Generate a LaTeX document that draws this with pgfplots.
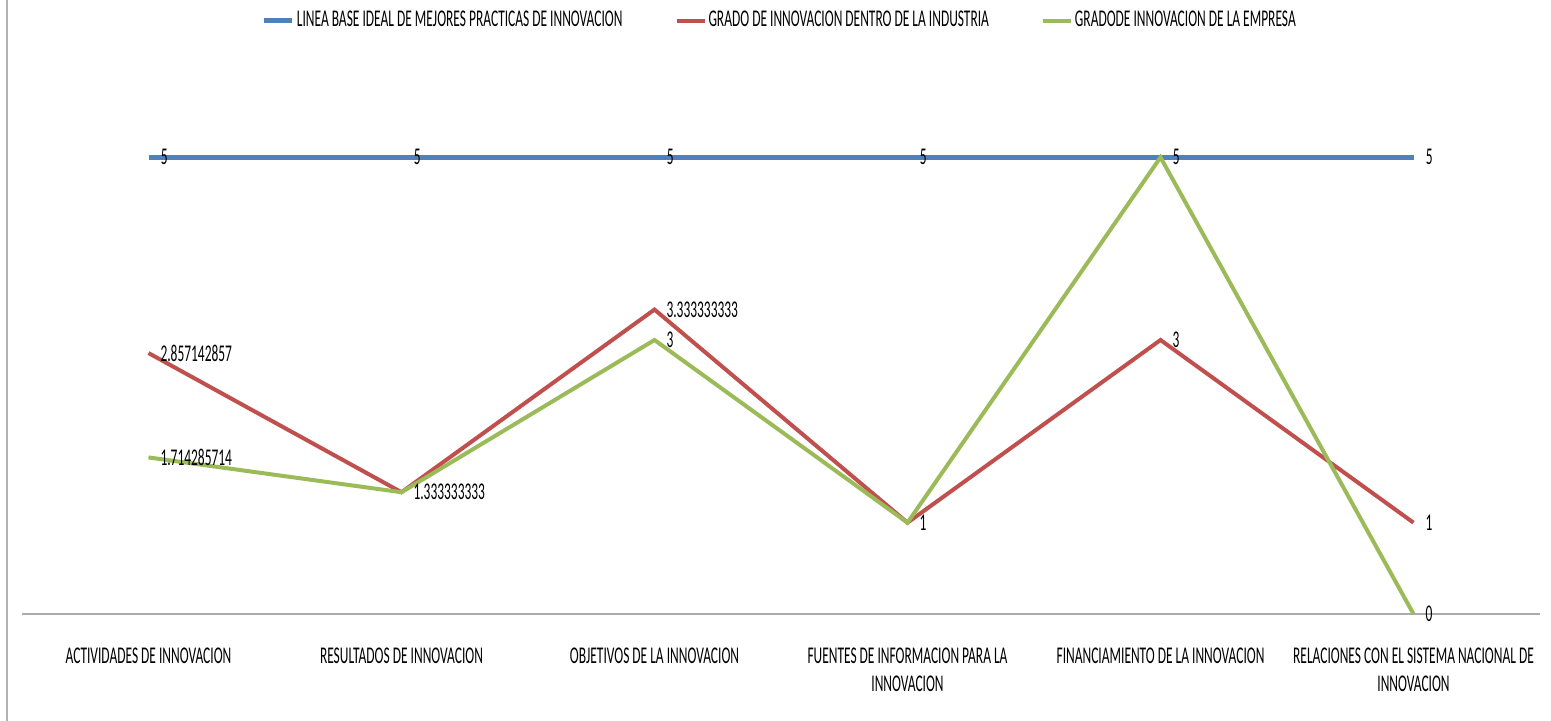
\documentclass[border=0pt]{standalone}
\usepackage{fontspec}
\setmainfont{Carlito}[FakeStretch=0.56]
\usepackage{pgfplots}
\pgfplotsset{compat=1.18}
\definecolor{exblue}{HTML}{4F81BD}
\definecolor{exred}{HTML}{C0504D}
\definecolor{exgreen}{HTML}{9BBB59}
\newcommand{\lf}{\fontsize{12}{14}\selectfont}
\begin{document}
\begin{tikzpicture}
\useasboundingbox (0,0) rectangle (775.5pt,-360.5pt);
\draw[gray!60, line width=0.8pt] (3.5pt,0) -- (3.5pt,-360.5pt);
\begin{axis}[
  at={(11pt,-307pt)}, anchor=south west,
  scale only axis, width=759pt, height=274pt,
  xmin=-0.5, xmax=5.5, ymin=0, ymax=6,
  clip=false,
  hide y axis,
  axis x line*=bottom,
  x axis line style={draw=black!33, line width=1pt, -},
  major tick length=0pt,
  xtick={0,1,2,3,4,5},
  xticklabels={ACTIVIDADES DE INNOVACION, RESULTADOS DE INNOVACION, OBJETIVOS DE LA INNOVACION, {FUENTES DE INFORMACION PARA LA\\INNOVACION}, FINANCIAMIENTO DE LA INNOVACION, {RELACIONES CON EL SISTEMA NACIONAL DE\\INNOVACION}},
  xticklabel style={font=\lf, align=center, anchor=north, yshift=-13.5pt, text=black},
  legend columns=3,
  legend style={draw=none, at={(0.4993,1.083)}, anchor=center, font=\lf,
    /tikz/every even column/.append style={column sep=25pt},
    nodes={inner sep=1pt, text=black}},
  legend image code/.code={\draw[#1] (0pt,0pt) -- (14pt,0pt);},
  nodes near coords,
  point meta=explicit symbolic,
  every node near coord/.append style={font=\lf, anchor=west, inner sep=1pt, xshift=4pt, text=black},
]
\addplot[exblue, line width=2.4pt, mark=none] coordinates {
 (0,5) [5] (1,5) [5] (2,5) [5] (3,5) [5] (4,5) [5] (5,5) [5]};
\addlegendentry{LINEA BASE IDEAL DE MEJORES PRACTICAS DE INNOVACION}
\addplot[exred, line width=2pt, mark=none] coordinates {
 (0,2.857142857) [2.857142857] (1,1.333333333) [] (2,3.333333333) [3.333333333] (3,1) [] (4,3) [3] (5,1) [1]};
\addlegendentry{GRADO DE INNOVACION DENTRO DE LA INDUSTRIA}
\addplot[exgreen, line width=2pt, mark=none] coordinates {
 (0,1.714285714) [1.714285714] (1,1.333333333) [1.333333333] (2,3) [3] (3,1) [1] (4,5) [] (5,0) [0]};
\addlegendentry{GRADODE INNOVACION DE LA EMPRESA}
\end{axis}
\end{tikzpicture}
\end{document}
